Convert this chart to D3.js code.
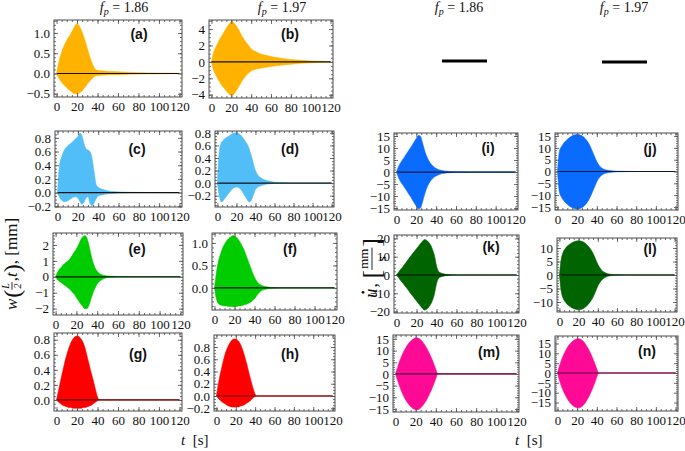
<!DOCTYPE html>
<html><head><meta charset="utf-8">
<script src="https://cdn.jsdelivr.net/npm/d3@7"></script>
<style>body{margin:0;background:#fff}svg{display:block}</style>
</head><body><svg id="c" width="685" height="451"></svg>
<script>
// ---------- DATA ----------
const T = [0,2,4,6,8,10,12,14,16,18,20,22,24,26,28,30,32,34,36,38,40,42,44,46,48,50,55,60,70,80,90,100,110,120];
const xTicks = [0,20,40,60,80,100,120];
const titles = ["1.86","1.97","1.86","1.97"];
const panelNames = ["a","b","c","d","e","f","g","h","i","j","k","l","m","n"];

const aUp = [0,0.25,0.45,0.6,0.72,0.82,0.9,0.98,1.08,1.18, 1.23,1.18,1.08,0.95,0.8,0.62,0.45,0.3,0.18,0.1, 0.08,0.07,0.07,0.06,0.06,0.05, 0.05,0.04,0.03,0.02,0.015,0.01,0.008,0.005];
const aLo = [0,-0.1,-0.18,-0.25,-0.3,-0.35,-0.4,-0.44,-0.48,-0.5, -0.5,-0.48,-0.45,-0.4,-0.33,-0.26,-0.2,-0.14,-0.09,-0.06, -0.05,-0.05,-0.04,-0.04,-0.04,-0.03, -0.03,-0.03,-0.02,-0.015,-0.01,-0.008,-0.005,-0.003];
const bUp = [0,1.1,1.7,2.2,2.7,3.1,3.5,3.9,4.3,4.65, 4.85,4.8,4.55,4.2,3.8,3.3,2.9,2.5,2.2,1.9, 1.6,1.4,1.3,1.15,1.05,0.95, 0.8,0.65,0.45,0.3,0.2,0.12,0.08,0.05];
const bLo = [0,-1.0,-1.5,-2.0,-2.4,-2.8,-3.1,-3.4,-3.7,-3.95, -4.1,-4.0,-3.7,-3.3,-2.9,-2.5,-2.1,-1.8,-1.5,-1.3, -1.1,-1.0,-0.9,-0.85,-0.8,-0.75, -0.65,-0.55,-0.4,-0.28,-0.18,-0.1,-0.06,-0.04];
const cUp = [0,0.4,0.52,0.6,0.65,0.68,0.71,0.73,0.76,0.79, 0.82,0.87,0.83,0.72,0.64,0.62,0.6,0.5,0.3,0.12, 0.08,0.06,0.05,0.04,0.03,0.025, 0.015,0.01,0.005,0.003,0.002,0.001,0,0];
const cLo = [0,-0.07,-0.11,-0.13,-0.13,-0.12,-0.1,-0.08,-0.065,-0.06, -0.08,-0.13,-0.17,-0.14,-0.08,-0.06,-0.16,-0.19,-0.15,-0.09, -0.05,-0.04,-0.03,-0.025,-0.02,-0.015, -0.01,-0.005,0,0,0,0,0,0];
const dUp = [0,0.5,0.64,0.68,0.71,0.73,0.75,0.77,0.79,0.8, 0.8,0.79,0.77,0.74,0.7,0.65,0.6,0.52,0.42,0.3, 0.2,0.14,0.1,0.08,0.06,0.05, 0.03,0.015,0.005,0,0,0,0,0];
const dLo = [0,-0.2,-0.3,-0.28,-0.24,-0.2,-0.16,-0.12,-0.09,-0.07, -0.06,-0.07,-0.09,-0.13,-0.18,-0.23,-0.28,-0.3,-0.26,-0.18, -0.1,-0.07,-0.05,-0.04,-0.03,-0.02, -0.01,-0.005,0,0,0,0,0,0];
const eUp = [0,0.3,0.5,0.65,0.78,0.9,1.0,1.15,1.35,1.55, 1.75,2.0,2.3,2.5,2.6,2.45,2.0,1.4,0.9,0.55, 0.35,0.22,0.15,0.1,0.07,0.05, 0.03,0.02,0.01,0.005,0,0,0,0];
const eLo = [0,-0.2,-0.3,-0.4,-0.5,-0.6,-0.7,-0.8,-0.95,-1.1, -1.3,-1.5,-1.7,-1.85,-2.0,-2.0,-1.8,-1.4,-1.0,-0.7, -0.45,-0.3,-0.2,-0.13,-0.08,-0.05, -0.03,-0.02,-0.01,-0.005,0,0,0,0];
const fUp = [0,0.35,0.6,0.75,0.88,0.97,1.04,1.09,1.13,1.16, 1.16,1.12,1.07,1.0,0.92,0.82,0.7,0.58,0.46,0.34, 0.24,0.16,0.1,0.07,0.05,0.035, 0.015,0.005,0,0,0,0,0,0];
const fLo = [0,-0.25,-0.35,-0.38,-0.39,-0.4,-0.4,-0.41,-0.41,-0.42, -0.42,-0.41,-0.4,-0.4,-0.39,-0.37,-0.36,-0.34,-0.32,-0.28, -0.24,-0.18,-0.12,-0.08,-0.05,-0.035, -0.015,-0.005,0,0,0,0,0,0];
const gUp = [0,0.13,0.26,0.38,0.5,0.6,0.69,0.76,0.81,0.84, 0.85,0.84,0.81,0.76,0.68,0.57,0.46,0.35,0.25,0.14, 0.04,0,0,0,0,0, 0,0,0,0,0,0,0,0];
const gLo = [0,-0.03,-0.05,-0.07,-0.08,-0.09,-0.1,-0.1,-0.11,-0.11, -0.11,-0.11,-0.11,-0.1,-0.1,-0.09,-0.08,-0.07,-0.05,-0.03, -0.01,0,0,0,0,0, 0,0,0,0,0,0,0,0];
const hUp = [0,0.2,0.36,0.5,0.63,0.73,0.81,0.87,0.91,0.93, 0.93,0.91,0.87,0.8,0.71,0.6,0.48,0.35,0.23,0.12, 0.03,0,0,0,0,0, 0,0,0,0,0,0,0,0];
const hLo = [0,-0.04,-0.07,-0.1,-0.12,-0.14,-0.16,-0.17,-0.18,-0.18, -0.18,-0.18,-0.17,-0.16,-0.15,-0.13,-0.11,-0.09,-0.06,-0.03, -0.01,0,0,0,0,0, 0,0,0,0,0,0,0,0];
const iUp = [0,2.2,3.8,5.0,6.2,7.5,8.8,10.0,11.3,12.7, 14.0,15.2,15.0,12.5,9.5,7.0,5.2,3.8,2.8,2.0, 1.5,1.1,0.8,0.6,0.45,0.35, 0.2,0.1,0.05,0.02,0,0,0,0];
const iLo = [0,-2.3,-3.9,-5.1,-6.3,-7.6,-8.9,-10.1,-11.5,-12.9, -14.2,-15.3,-15.1,-12.8,-9.8,-7.2,-5.3,-3.9,-2.9,-2.1, -1.6,-1.2,-0.9,-0.65,-0.5,-0.38, -0.22,-0.1,-0.05,-0.02,0,0,0,0];
const jUp = [0,8.5,10.5,11.8,12.8,13.6,14.3,14.9,15.3,15.6, 15.7,15.6,15.3,14.8,14.0,13.0,11.7,10.0,8.0,6.0, 4.2,2.8,1.8,1.2,0.8,0.6, 0.3,0.12,0.04,0,0,0,0,0];
const jLo = [0,-8.7,-10.8,-12.1,-13.1,-13.9,-14.6,-15.1,-15.5,-15.8, -15.9,-15.8,-15.5,-15.0,-14.2,-13.2,-11.9,-10.2,-8.2,-6.2, -4.3,-2.9,-1.9,-1.25,-0.85,-0.6, -0.3,-0.12,-0.04,0,0,0,0,0];
const kUp = [0,1.5,3.0,4.3,5.7,7.2,8.7,10.2,11.6,13.0, 14.4,15.8,17.2,18.5,19.5,19.0,18.0,16.5,14.0,10.5, 5.0,2.0,1.2,0.8,0.5,0.35, 0.15,0.05,0,0,0,0,0,0];
const kLo = [0,-1.4,-2.9,-4.2,-5.6,-7.0,-8.5,-10.0,-11.4,-12.8, -14.2,-15.6,-17.0,-18.3,-19.2,-18.8,-17.8,-16.2,-13.8,-10.2, -4.8,-1.9,-1.1,-0.75,-0.5,-0.35, -0.15,-0.05,0,0,0,0,0,0];
const lUp = [0,6.0,8.5,9.7,10.6,11.2,11.7,12.1,12.4,12.6, 12.7,12.6,12.4,12.0,11.4,10.7,9.8,8.7,7.3,5.6, 4.0,2.8,1.8,1.2,0.8,0.5, 0.2,0.08,0.02,0,0,0,0,0];
const lLo = [0,-6.2,-8.7,-9.9,-10.8,-11.4,-11.9,-12.3,-12.6,-12.8, -12.9,-12.8,-12.6,-12.2,-11.6,-10.9,-10.0,-8.9,-7.5,-5.8, -4.1,-2.9,-1.9,-1.25,-0.85,-0.5, -0.2,-0.08,-0.02,0,0,0,0,0];
const mUp = [0,2.8,5.4,7.6,9.5,11.1,12.5,13.6,14.5,15.1, 15.5,15.4,15.0,14.2,13.1,11.8,10.2,8.4,6.5,4.4, 2.0,0,0,0,0,0, 0,0,0,0,0,0,0,0];
const mLo = [0,-2.7,-5.3,-7.5,-9.4,-11.0,-12.4,-13.5,-14.4,-15.0, -15.3,-15.3,-14.9,-14.1,-13.0,-11.7,-10.1,-8.3,-6.4,-4.3, -1.9,0,0,0,0,0, 0,0,0,0,0,0,0,0];
const nUp = [0,3.5,6.5,9.0,11.1,12.9,14.3,15.5,16.4,17.0, 17.4,17.4,17.0,16.2,15.0,13.5,11.7,9.6,7.3,4.8, 2.0,0,0,0,0,0, 0,0,0,0,0,0,0,0];
const nLo = [0,-3.6,-6.7,-9.2,-11.3,-13.1,-14.6,-15.8,-16.7,-17.3, -17.7,-17.7,-17.3,-16.5,-15.3,-13.7,-11.9,-9.8,-7.4,-4.9, -2.0,0,0,0,0,0, 0,0,0,0,0,0,0,0];

const yTicksFrac1 = [-0.2,0,0.2,0.4,0.6,0.8];
const yTicks = {
  a:[-0.5,0,0.5,1.0], b:[-4,-2,0,2,4], c:yTicksFrac1, d:yTicksFrac1,
  e:[-2,-1,0,1,2], f:[0,0.5,1.0], g:[0,0.2,0.4,0.6,0.8], h:yTicksFrac1,
  i:[-15,-10,-5,0,5,10,15], j:[-15,-10,-5,0,5,10,15], k:[-20,-10,0,10,20],
  l:[-10,-5,0,5,10], m:[-15,-10,-5,0,5,10,15], n:[-15,-10,-5,0,5,10,15]
};
const yMinorStep = {a:0.1,b:0.5,c:0.05,d:0.05,e:0.2,f:0.1,g:0.05,h:0.05,i:1,j:1,k:2,l:1,m:1,n:1};
const yDomains = {
  a:[-0.58,1.32], b:[-4.4,5.1], c:[-0.21,0.9], d:[-0.38,0.83],
  e:[-2.4,2.75], f:[-0.49,1.22], g:[-0.147,0.89], h:[-0.245,0.996],
  i:[-15.8,16.25], j:[-16.3,16.3], k:[-20.8,21.9], l:[-13.7,13.7],
  m:[-16.3,16.7], n:[-19.3,18.8]
};
const series = {a:[aUp,aLo],b:[bUp,bLo],c:[cUp,cLo],d:[dUp,dLo],e:[eUp,eLo],f:[fUp,fLo],g:[gUp,gLo],
  h:[hUp,hLo],i:[iUp,iLo],j:[jUp,jLo],k:[kUp,kLo],l:[lUp,lLo],m:[mUp,mLo],n:[nUp,nLo]};

// ---------- LAYOUT / STYLE ----------
const frames = {
  a:[54,182,20,97], b:[209,333,20,98], c:[55,182,131,207], d:[215,334,131,207],
  i:[394,518,133,210], j:[555,678,133,210], e:[53,183,233,315], f:[212,337,233,310],
  k:[394,519,235,313], l:[557,677,238,312], g:[54,182,333,411], h:[214,335,335,411],
  m:[393,519,335,412], n:[555,678,336,411]
};
const labelPos = {a:[139,39],b:[290,39],c:[137,154],d:[290,154],i:[488,153],j:[650,154],
  e:[137,254],f:[290,254],k:[491,252],l:[650,254],g:[138,359],h:[290,359],m:[489,357],n:[647,356]};
const colors = {a:"#FFB300",b:"#FFB300",c:"#52BEF7",d:"#52BEF7",e:"#00CC00",f:"#00CC00",
  g:"#FF0000",h:"#FF0000",i:"#0A6CFF",j:"#0A6CFF",k:"#006400",l:"#006400",m:"#FF0A96",n:"#FF0A96"};
const zeroCol = {a:"#111",b:"#111",c:"#111",d:"#111",e:"#111",f:"#111",g:"#5a1515",h:"#5a1515",
  i:"#0b1a3c",j:"#0b1a3c",k:"#111",l:"#111",m:"#4a1030",n:"#4a1030"};
const fmtFrac = {a:1,c:1,d:1,f:1,g:1,h:1};
const SERIF = "Liberation Serif, Times New Roman, serif";
const SANS = "Liberation Sans, Arial, sans-serif";
const FRAME = "#4d4d4d";

const svg = d3.select("#c");
const xDom = [-2.5,122.5];

panelNames.forEach(p => {
  const [x0,x1,y0,y1] = frames[p];
  const x = d3.scaleLinear().domain(xDom).range([x0,x1]);
  const y = d3.scaleLinear().domain(yDomains[p]).range([y1,y0]);
  const g = svg.append("g");
  const cid = "clip"+p;
  svg.append("clipPath").attr("id",cid).append("rect").attr("x",x0).attr("y",y0).attr("width",x1-x0).attr("height",y1-y0);
  const [up,lo] = series[p];
  const area = d3.area().x((d,i)=>x(T[i])).y0((d,i)=>y(lo[i])).y1((d,i)=>y(up[i])).curve(d3.curveMonotoneX);
  const pg = g.append("g").attr("clip-path",`url(#${cid})`);
  pg.append("path").datum(up).attr("d",area).attr("fill",colors[p]).attr("stroke",colors[p]).attr("stroke-width",0.6);
  pg.append("line").attr("x1",x(0)).attr("x2",x(120)).attr("y1",y(0)).attr("y2",y(0))
    .attr("stroke",zeroCol[p]).attr("stroke-width",1.2);

  const yMin = d3.range(Math.ceil(yDomains[p][0]/yMinorStep[p])*yMinorStep[p], yDomains[p][1], yMinorStep[p]);
  const xMin = d3.range(0,121,5);
  const fmt = fmtFrac[p] ? d3.format(".1f") : d3.format("d");
  const styleAxis = sel => { sel.attr("font-family",SERIF).attr("font-size",13);
     sel.select(".domain").remove(); sel.selectAll("line").attr("stroke",FRAME).attr("stroke-width",0.8);
     sel.selectAll("text").attr("fill","#111"); };
  g.append("g").attr("transform",`translate(0,${y1})`).call(d3.axisBottom(x).tickValues(xTicks).tickSize(-4).tickPadding(5).tickFormat(d3.format("d"))).call(styleAxis);
  g.append("g").attr("transform",`translate(0,${y1})`).call(d3.axisBottom(x).tickValues(xMin).tickSize(-2).tickFormat("")).call(styleAxis);
  g.append("g").attr("transform",`translate(0,${y0})`).call(d3.axisTop(x).tickValues(xTicks).tickSize(-4).tickFormat("")).call(styleAxis);
  g.append("g").attr("transform",`translate(0,${y0})`).call(d3.axisTop(x).tickValues(xMin).tickSize(-2).tickFormat("")).call(styleAxis);
  g.append("g").attr("transform",`translate(${x0},0)`).call(d3.axisLeft(y).tickValues(yTicks[p]).tickSize(-4).tickPadding(4).tickFormat(fmt)).call(styleAxis);
  g.append("g").attr("transform",`translate(${x0},0)`).call(d3.axisLeft(y).tickValues(yMin).tickSize(-2).tickFormat("")).call(styleAxis);
  g.append("g").attr("transform",`translate(${x1},0)`).call(d3.axisRight(y).tickValues(yTicks[p]).tickSize(-4).tickFormat("")).call(styleAxis);
  g.append("g").attr("transform",`translate(${x1},0)`).call(d3.axisRight(y).tickValues(yMin).tickSize(-2).tickFormat("")).call(styleAxis);
  g.append("rect").attr("x",x0).attr("y",y0).attr("width",x1-x0).attr("height",y1-y0)
    .attr("fill","none").attr("stroke",FRAME).attr("stroke-width",1);

  g.append("text").attr("x",labelPos[p][0]).attr("y",labelPos[p][1]).attr("text-anchor","middle")
    .attr("font-family",SANS).attr("font-weight","bold").attr("font-size",14).attr("fill","#111").text(`(${p})`);
});

// titles f_p = ...
const titleX = [124,282,459,624];
titles.forEach((v,i)=>{
  const t = svg.append("text").attr("x",titleX[i]).attr("y",12).attr("text-anchor","middle")
    .attr("font-family",SERIF).attr("font-size",14).attr("fill","#111");
  t.append("tspan").attr("font-style","italic").text("f");
  t.append("tspan").attr("font-style","italic").attr("font-size",10).attr("dy",3).text("p");
  t.append("tspan").attr("dy",-3).text(" = " + v);
});

// black segments in top-right
svg.append("line").attr("x1",442).attr("x2",487).attr("y1",61).attr("y2",61).attr("stroke","#000").attr("stroke-width",3);
svg.append("line").attr("x1",602).attr("x2",647).attr("y1",62).attr("y2",62).attr("stroke","#000").attr("stroke-width",3);

// x axis titles
[[181,445],[515,445]].forEach(([xx,yy])=>{
  const t = svg.append("text").attr("x",xx).attr("y",yy).attr("font-family",SERIF).attr("font-size",15).attr("fill","#111");
  t.append("tspan").attr("font-style","italic").text("t");
  t.append("tspan").text("\u00a0\u00a0[s]");
});

// math label builder (rotated)
function mathLabel(cx, cy, pieces, fs) {
  const outer = svg.append("g").attr("transform",`translate(${cx},${cy}) rotate(-90)`);
  const g = outer.append("g");
  let pos = 0;
  pieces.forEach(p=>{
    if (p.frac) {
      const a = g.append("text").attr("font-family",SERIF).attr("font-size",p.fs).attr("font-style",p.it?"italic":null).text(p.frac[0]);
      const b = g.append("text").attr("font-family",SERIF).attr("font-size",p.fs).attr("font-style",p.it?"italic":null).text(p.frac[1]);
      const wa = a.node().getComputedTextLength(), wb = b.node().getComputedTextLength();
      const w = Math.max(wa,wb)+2;
      a.attr("x",pos+(w-wa)/2).attr("y",p.ny);
      b.attr("x",pos+(w-wb)/2).attr("y",p.dy);
      g.append("line").attr("x1",pos).attr("x2",pos+w).attr("y1",p.ly).attr("y2",p.ly).attr("stroke","#111").attr("stroke-width",0.9);
      pos += w + 1;
    } else {
      const t = g.append("text").attr("x",pos).attr("y",p.y||0).attr("font-family",SERIF).attr("font-size",p.fs||fs)
        .attr("font-style",p.it?"italic":null).attr("fill","#111").text(p.t);
      const w = t.node().getComputedTextLength();
      if (p.dot) g.append("circle").attr("cx",pos+w/2+1).attr("cy",-14).attr("r",1.4).attr("fill","#111");
      pos += w + (p.sp||0);
    }
  });
  g.attr("transform",`translate(${-pos/2},0)`);
}
mathLabel(17, 264, [
  {t:"w",it:true,sp:1},{t:"(",fs:24,y:3},
  {frac:["L","2"],fs:10,it:true,ny:-8,dy:4,ly:-5},
  {t:", ",},{t:"t",it:true},{t:")",fs:24,y:3},{t:", [mm]"}
],17);
mathLabel(377, 268, [
  {t:"u",it:true,dot:true,fs:19,sp:1},{t:",\u00a0",fs:18},{t:"[",fs:26,y:3},
  {frac:["mm","s"],fs:13,it:false,ny:-9,dy:9,ly:-5},
  {t:"]",fs:26,y:3}
],17);
</script></body></html>
